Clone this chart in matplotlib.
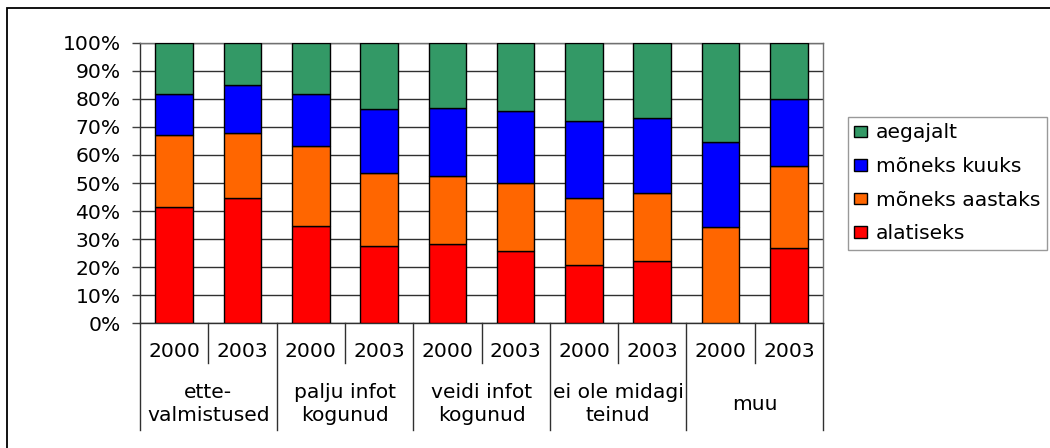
import matplotlib
matplotlib.use("Agg")
import matplotlib.pyplot as plt
from matplotlib.lines import Line2D
from matplotlib.patches import Rectangle
import numpy as np

plt.rcParams['font.family'] = ['DejaVu Sans']

groups = ["ette-\nvalmistused", "palju infot\nkogunud", "veidi infot\nkogunud",
          "ei ole midagi\nteinud", "muu"]
years = ["2000", "2003"]
series_names = ["alatiseks", "mõneks aastaks", "mõneks kuuks", "aegajalt"]
alatiseks = [41.5, 44.5, 34.8, 27.6, 28.2, 25.8, 20.8, 22.0, 0.0, 26.8]
aastaks = [25.6, 23.2, 28.5, 26.1, 24.4, 24.2, 23.8, 24.4, 34.3, 29.4]
kuuks = [14.7, 17.2, 18.5, 22.7, 24.2, 25.8, 27.5, 26.9, 30.5, 23.9]
aegajalt = [18.2, 15.1, 18.2, 23.6, 23.2, 24.2, 27.9, 26.7, 35.2, 19.9]
colors = ["#FF0000", "#FF6600", "#0000FF", "#339966"]

FS = 14.6
W, H = 1050, 448
fig = plt.figure(figsize=(W / 100, H / 100), dpi=100)
ax = fig.add_axes([140 / W, 1 - 323 / H, 683 / W, 280 / H])

data = np.array([alatiseks, aastaks, kuuks, aegajalt])
n = data.shape[1]
x = np.arange(n)
bottom = np.zeros(n)
handles = []
for vals, name, col in zip(data, series_names, colors):
    b = ax.bar(x, vals, bottom=bottom, width=0.55, color=col, edgecolor="black",
               linewidth=1.0, label=name, zorder=3)
    handles.append(b)
    bottom += vals

ax.set_xlim(-0.5, n - 0.5)
ax.set_ylim(0, 100)
ax.set_yticks(np.arange(0, 101, 10))
ax.set_yticklabels([f"{v}%" for v in range(0, 101, 10)], fontsize=FS)
ax.tick_params(axis='y', length=6, width=1, color='#404040', pad=8)
ax.yaxis.grid(True, color='#303030', linewidth=1.0, zorder=0)
ax.set_axisbelow(True)
ax.set_xticks([])
for s in ax.spines.values():
    s.set_color('#707070')
    s.set_linewidth(1.0)
ax.spines['left'].set_color('#303030')
ax.spines['bottom'].set_color('#303030')

trans = ax.get_xaxis_transform()
# axis-table lines
y_year = -(363 - 323) / 280
y_cat = -(430 - 323) / 280
for i in range(n + 1):
    xb = i - 0.5
    yb = y_cat if i % 2 == 0 else y_year
    ax.add_line(Line2D([xb, xb], [0, yb], transform=trans, color='#303030',
                       linewidth=1.0, clip_on=False))
for i in range(n):
    ax.text(i, -(351 - 323) / 280, years[i % 2], transform=trans, ha='center',
            va='center', fontsize=FS)
for g, name in enumerate(groups):
    ax.text(2 * g + 0.5, -(404 - 323) / 280, name, transform=trans, ha='center',
            va='center', fontsize=FS, linespacing=1.25)

# legend
leg = fig.legend(handles[::-1], series_names[::-1], loc='upper left',
                 bbox_to_anchor=(848 / W, 1 - 117 / H), frameon=True, fancybox=False,
                 fontsize=FS, handlelength=0.6, handleheight=0.5, handletextpad=0.45,
                 labelspacing=0.72, borderpad=0.32, borderaxespad=0)
leg.get_frame().set_edgecolor('#808080')
leg.get_frame().set_linewidth(1.0)

# outer border (only left and top visible)
fig.add_artist(Rectangle((7 / W, -0.1), 1.2, 1.1 - 8 / H, transform=fig.transFigure,
                         fill=False, edgecolor='black', linewidth=1.3))

fig.savefig("out.png", dpi=100)
